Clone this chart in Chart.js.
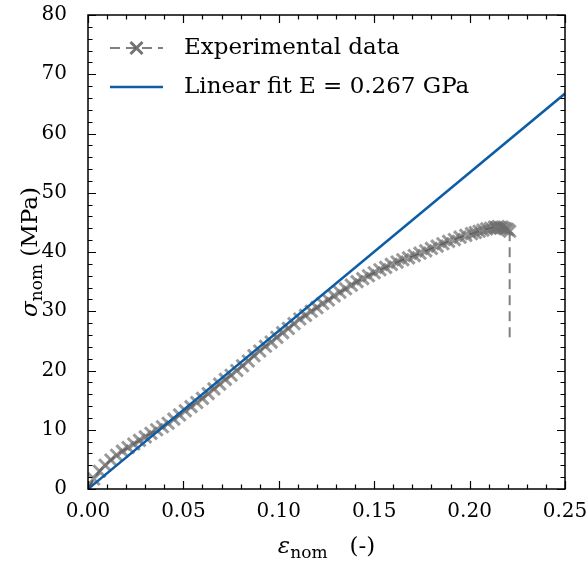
<!DOCTYPE html>
<html>
<head>
<meta charset="utf-8">
<script src="https://cdn.jsdelivr.net/npm/chart.js@4.4.0/dist/chart.umd.min.js"></script>
<style>
    html, body { margin: 0; padding: 0; background: #fff; }
    #wrap { width: 588px; height: 566px; position: relative; }
</style>
</head>
<body>
<div id="wrap"><canvas id="chart"></canvas></div>
<script>
// Experimental curve (nominal strain, nominal stress in MPa)
const strain = [
    0.000, 0.003, 0.006, 0.009, 0.012, 0.015, 0.018, 0.021, 0.024, 0.027,
    0.030, 0.033, 0.036, 0.039, 0.042, 0.045, 0.048, 0.051, 0.054, 0.057,
    0.060, 0.063, 0.066, 0.069, 0.072, 0.075, 0.078, 0.081, 0.084, 0.087,
    0.090, 0.093, 0.096, 0.099, 0.102, 0.105, 0.108, 0.111, 0.114, 0.117,
    0.120, 0.123, 0.126, 0.129, 0.132, 0.135, 0.138, 0.141, 0.144, 0.147,
    0.150, 0.153, 0.156, 0.159, 0.162, 0.165, 0.168, 0.171, 0.174, 0.177,
    0.180, 0.183, 0.186, 0.189, 0.192, 0.195, 0.198, 0.201, 0.203, 0.205,
    0.207, 0.209, 0.211, 0.213, 0.214, 0.215, 0.216, 0.217, 0.218, 0.219,
    0.220, 0.221, 0.221
];
const stress = [
    0.0, 1.7, 3.0, 4.0, 4.9, 5.7, 6.4, 7.0, 7.6, 8.2,
    8.8, 9.4, 10.0, 10.5, 11.1, 11.8, 12.5, 13.2, 13.9, 14.6,
    15.3, 16.1, 16.9, 17.7, 18.5, 19.2, 20.0, 20.8, 21.6, 22.5,
    23.3, 24.1, 24.8, 25.6, 26.4, 27.1, 27.9, 28.7, 29.3, 30.0,
    30.6, 31.3, 31.9, 32.6, 33.2, 33.8, 34.4, 35.0, 35.5, 36.0,
    36.5, 37.0, 37.4, 37.9, 38.3, 38.7, 39.0, 39.4, 39.8, 40.2,
    40.6, 41.0, 41.4, 41.8, 42.1, 42.5, 42.8, 43.1, 43.3, 43.5,
    43.7, 43.9, 44.0, 44.2, 44.1, 44.3, 44.1, 44.2, 44.0, 43.9,
    43.8, 43.5, 25.3
];

// Linear fit, E = 0.267 GPa
const fitStrain = [0, 0.25];
const fitStress = [0, 66.75];

const xTicks = [0, 0.05, 0.10, 0.15, 0.20, 0.25];
const yTicks = [0, 10, 20, 30, 40, 50, 60, 70, 80];
const seriesLabels = ['Experimental data', 'Linear fit E = 0.267 GPa'];

const FONT = '"DejaVu Serif", serif';
const GRAY = '#808080';
const BLUE = '#0C5DA5';

// Inward ticks on all four sides + the frame
const frameTicks = {
    id: 'frameTicks',
    afterDraw(chart) {
        const { ctx, chartArea: a, scales: { x, y } } = chart;
        ctx.save();
        ctx.strokeStyle = '#000';
        ctx.lineWidth = 1.2;
        ctx.beginPath();
        for (let i = 0; i <= 25; i++) {
            const px = Math.round(x.getPixelForValue(i / 100)) + 0.5;
            const len = i % 5 === 0 ? 8 : 4.5;
            ctx.moveTo(px, a.bottom); ctx.lineTo(px, a.bottom - len);
            ctx.moveTo(px, a.top); ctx.lineTo(px, a.top + len);
        }
        for (let v = 0; v <= 80; v += 2) {
            const py = Math.round(y.getPixelForValue(v)) + 0.5;
            const len = v % 10 === 0 ? 8 : 4.5;
            ctx.moveTo(a.left, py); ctx.lineTo(a.left + len, py);
            ctx.moveTo(a.right, py); ctx.lineTo(a.right - len, py);
        }
        ctx.stroke();
        ctx.lineWidth = 1.5;
        ctx.strokeRect(a.left, a.top, a.right - a.left, a.bottom - a.top);
        ctx.restore();
    }
};

// Legend inside the axes, top left
const innerLegend = {
    id: 'innerLegend',
    afterDraw(chart) {
        const { ctx, chartArea: a } = chart;
        const x0 = a.left + 22, x1 = a.left + 75, tx = a.left + 96;
        const rows = [a.top + 33, a.top + 72];
        ctx.save();
        // experimental: dashed gray with an x marker
        ctx.strokeStyle = GRAY;
        ctx.lineWidth = 2;
        ctx.setLineDash([10, 6]);
        ctx.beginPath();
        ctx.moveTo(x0, rows[0]); ctx.lineTo(x1, rows[0]);
        ctx.stroke();
        ctx.setLineDash([]);
        const cx = (x0 + x1) / 2, r = 6;
        ctx.strokeStyle = 'rgba(90,90,90,0.85)';
        ctx.lineWidth = 3;
        ctx.beginPath();
        ctx.moveTo(cx - r, rows[0] - r); ctx.lineTo(cx + r, rows[0] + r);
        ctx.moveTo(cx - r, rows[0] + r); ctx.lineTo(cx + r, rows[0] - r);
        ctx.stroke();
        // fit: solid blue
        ctx.strokeStyle = BLUE;
        ctx.lineWidth = 2.5;
        ctx.beginPath();
        ctx.moveTo(x0, rows[1]); ctx.lineTo(x1, rows[1]);
        ctx.stroke();
        ctx.fillStyle = '#000';
        ctx.font = '23px ' + FONT;
        ctx.textBaseline = 'middle';
        ctx.fillText(seriesLabels[0], tx, rows[0]);
        ctx.fillText(seriesLabels[1], tx, rows[1]);
        ctx.restore();
    }
};

// Axis titles with subscripts
function drawSubTitle(ctx, sym, sub, rest) {
    const big = '23px ' + FONT, small = '17px ' + FONT;
    ctx.font = 'italic ' + big; const w1 = ctx.measureText(sym).width;
    ctx.font = small; const w2 = ctx.measureText(sub).width;
    ctx.font = big; const w3 = ctx.measureText(rest).width;
    let px = -(w1 + w2 + w3) / 2;
    ctx.textBaseline = 'alphabetic';
    ctx.font = 'italic ' + big; ctx.fillText(sym, px, 0); px += w1;
    ctx.font = small; ctx.fillText(sub, px, 5); px += w2;
    ctx.font = big; ctx.fillText(rest, px, 0);
}

const axisTitles = {
    id: 'axisTitles',
    afterDraw(chart) {
        const { ctx, chartArea: a } = chart;
        ctx.save();
        ctx.fillStyle = '#000';
        ctx.translate((a.left + a.right) / 2, 553);
        drawSubTitle(ctx, '\u03b5', 'nom', '   (-)');
        ctx.restore();
        ctx.save();
        ctx.fillStyle = '#000';
        ctx.translate(37, (a.top + a.bottom) / 2);
        ctx.rotate(-Math.PI / 2);
        drawSubTitle(ctx, '\u03c3', 'nom', ' (MPa)');
        ctx.restore();
    }
};

const lastIdx = strain.length - 1;

new Chart(document.getElementById('chart'), {
    type: 'line',
    data: {
        datasets: [
            {
                label: seriesLabels[1],
                data: fitStrain.map((v, i) => ({ x: v, y: fitStress[i] })),
                borderColor: BLUE,
                borderWidth: 2.5,
                pointRadius: 0,
                order: 0
            },
            {
                label: seriesLabels[0],
                data: strain.map((v, i) => ({ x: v, y: stress[i] })),
                borderColor: '#3a3a3a',
                borderWidth: 2,
                borderDash: [10, 6],
                segment: {
                    borderColor: ctx => ctx.p1DataIndex === lastIdx ? GRAY : undefined
                },
                pointStyle: 'crossRot',
                pointRadius: ctx => ctx.dataIndex === lastIdx ? 0 : 8.5,
                pointBorderWidth: 3,
                pointBorderColor: 'rgba(110,110,110,0.7)',
                pointBackgroundColor: 'rgba(0,0,0,0)',
                order: 1
            }
        ]
    },
    options: {
        responsive: true,
        maintainAspectRatio: false,
        animation: false,
        devicePixelRatio: 1,
        layout: { padding: { top: 15, right: 23, left: 0, bottom: 0 } },
        plugins: { legend: { display: false }, tooltip: { enabled: false } },
        scales: {
            x: {
                type: 'linear',
                min: 0, max: 0.25,
                grid: { display: false },
                border: { display: false },
                afterBuildTicks: s => { s.ticks = xTicks.map(v => ({ value: v })); },
                afterFit: s => { s.height = 77; s.paddingLeft = 0; s.paddingRight = 0; },
                ticks: {
                    color: '#000',
                    font: { family: FONT, size: 20 },
                    padding: 3,
                    maxRotation: 0,
                    callback: v => Number(v).toFixed(2)
                }
            },
            y: {
                type: 'linear',
                min: 0, max: 80,
                grid: { display: false },
                border: { display: false },
                afterBuildTicks: s => { s.ticks = yTicks.map(v => ({ value: v })); },
                afterFit: s => { s.width = 88; s.paddingTop = 0; s.paddingBottom = 0; },
                ticks: {
                    color: '#000',
                    font: { family: FONT, size: 20 },
                    padding: 13,
                    callback: v => String(v)
                }
            }
        }
    },
    plugins: [frameTicks, innerLegend, axisTitles]
});
</script>
</body>
</html>
